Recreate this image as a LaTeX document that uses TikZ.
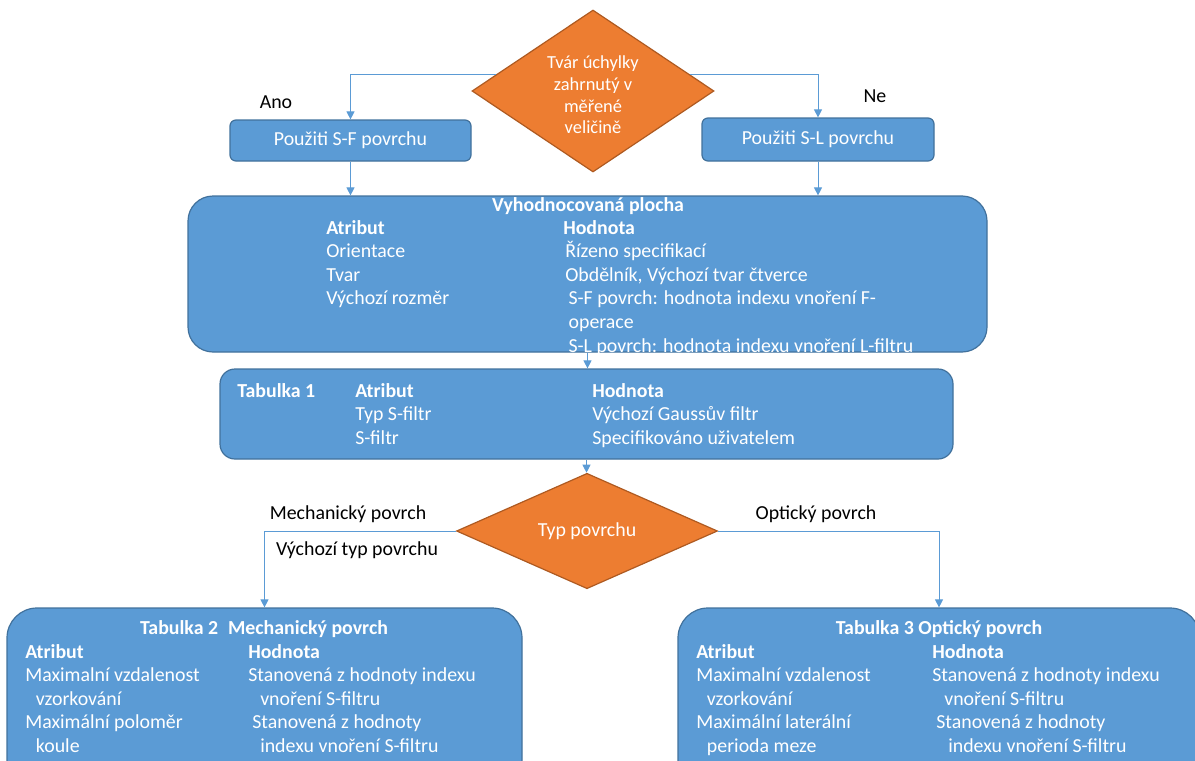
\documentclass[tikz,border=0pt]{standalone}
\usepackage{fontspec}
\setmainfont{Carlito}
\usepackage{tikz}
\usetikzlibrary{
  arrows.meta, positioning, shapes.geometric, calc
}
\definecolor{boxblue}{HTML}{5B9BD5}
\definecolor{boxline}{HTML}{41719C}
\definecolor{decorange}{HTML}{ED7D31}
\definecolor{decline}{HTML}{AE5A21}
\definecolor{linkblue}{HTML}{5B9BD5}
\newcommand{\boxfont}{\fontsize{14.9}{17.7}\selectfont}

\begin{document}
\begin{tikzpicture}[
  x=0.75pt, y=-0.75pt,
  every node/.style={font=\boxfont, inner sep=0pt},
  box/.style={draw=boxline, fill=boxblue, line width=0.9pt, rounded corners=#1},
  decision/.style={diamond, draw=decline, fill=decorange, line width=0.9pt},
  lbl/.style={text=white, align=left, anchor=base west},
  ttl/.style={text=white, font=\boxfont\bfseries, anchor=base},
  note/.style={text=black},
  conn/.style={draw=linkblue, line width=0.75pt, -{Triangle[length=6pt,width=6pt]}},
]
  \useasboundingbox (0,0) rectangle (1195,760);
  \clip (0,0) rectangle (1195,760);

  \node[decision, minimum width=181.5pt, minimum height=121.5pt] (deviation) at (593,91) {};
  \node[text=white, align=center, font=\fontsize{13.8}{16.3}\selectfont] (deviationtxt) at (593,95)
    {Tvár úchylky\\zahrnutý v\\měřené\\veličině};

  \node[box=4.5pt, minimum width=180.75pt, minimum height=30.75pt, text=white] (sf) at (350.5,140.5) {Použiti S-F povrchu};
  \node[box=4.5pt, minimum width=174pt, minimum height=32.25pt, text=white] (sl) at (818,139.5) {Použiti S-L povrchu};
  \node[note] (ano) at (276,102) {Ano};
  \node[note] (ne) at (875,96) {Ne};

  % multi-line labels are placed by the baseline of their last line
  \node[box=18.75pt, minimum width=599.25pt, minimum height=117pt] (plocha) at (587.5,274) {};
  \node[ttl] (plochattl) at (588,211) {Vyhodnocovaná plocha};
  \node[lbl] (plochaatr) at (326,304.8) {\textbf{Atribut}\\Orientace\\Tvar\\Výchozí rozměr};
  \node[lbl] (plochahod) at (563,352) {\textbf{Hodnota}\\\hspace{1.5pt}Řízeno specifikací\\\hspace{1.5pt}Obdělník, Výchozí tvar čtverce\\\hspace{4pt}S-F povrch: hodnota indexu vnoření F-\\\hspace{4pt}operace\\\hspace{4pt}S-L povrch: hodnota indexu vnoření L-filtru};

  \node[box=11.25pt, minimum width=549.75pt, minimum height=67.5pt] (tab1) at (586.5,414) {};
  \node[lbl, font=\boxfont\bfseries] (tab1ttl) at (237,397) {Tabulka 1};
  \node[lbl] (tab1atr) at (355,444.2) {\textbf{Atribut}\\Typ S-filtr\\S-filtr};
  \node[lbl] (tab1hod) at (592,444.2) {\textbf{Hodnota}\\Výchozí Gaussův filtr\\Specifikováno uživatelem};

  \node[decision, minimum width=195.75pt, minimum height=81.75pt, text=white] (surface) at (587,531) {Typ povrchu};
  \node[note] (mech) at (348,514) {Mechanický povrch};
  \node[note] (mechdef) at (357,550) {Výchozí typ povrchu};
  \node[note] (opt) at (816,514) {Optický povrch};

  \node[box=22.5pt, minimum width=386.25pt, minimum height=136.5pt] (tab2) at (264.5,699) {};
  \node[ttl] (tab2ttl) at (264,634) {Tabulka 2\hspace{0.5em}Mechanický povrch};
  \node[lbl] (tab2atr) at (25,752.4) {\textbf{Atribut}\\Maximalní vzdalenost\\\hspace{8pt}vzorkování\\Maximální poloměr\\\hspace{8pt}koule};
  \node[lbl] (tab2hod) at (248,752.4) {\textbf{Hodnota}\\Stanovená z hodnoty indexu\\\hspace{9pt}vnoření S-filtru\\\hspace{3pt}Stanovená z hodnoty\\\hspace{9pt}indexu vnoření S-filtru};

  \node[box=22.5pt, minimum width=391.5pt, minimum height=136.5pt] (tab3) at (939,699) {};
  \node[ttl] (tab3ttl) at (939,634) {Tabulka 3 Optický povrch};
  \node[lbl] (tab3atr) at (696,752.4) {\textbf{Atribut}\\Maximalní vzdalenost\\\hspace{8pt}vzorkování\\Maximální laterální\\\hspace{8pt}perioda meze};
  \node[lbl] (tab3hod) at (932,752.4) {\textbf{Hodnota}\\Stanovená z hodnoty indexu\\\hspace{9pt}vnoření S-filtru\\\hspace{3pt}Stanovená z hodnoty\\\hspace{12pt}indexu vnoření S-filtru};

  \draw[conn] ($(deviation.north)!0.8!(deviation.west)$) -| (sf.north);
  \draw[conn] ($(deviation.north)!0.8!(deviation.east)$) -| (sl.north);
  \draw[conn] (sf.south) -- (sf.south |- plocha.north);
  \draw[conn] (sl.south) -- (sl.south |- plocha.north);
  \draw[conn] (plocha.south) -- (plocha.south |- tab1.north);
  \draw[conn] (tab1.south) -- (tab1.south |- surface.north);
  \draw[conn] (surface.west) -| (tab2.north);
  \draw[conn] (surface.east) -| (tab3.north);
\end{tikzpicture}
\end{document}
